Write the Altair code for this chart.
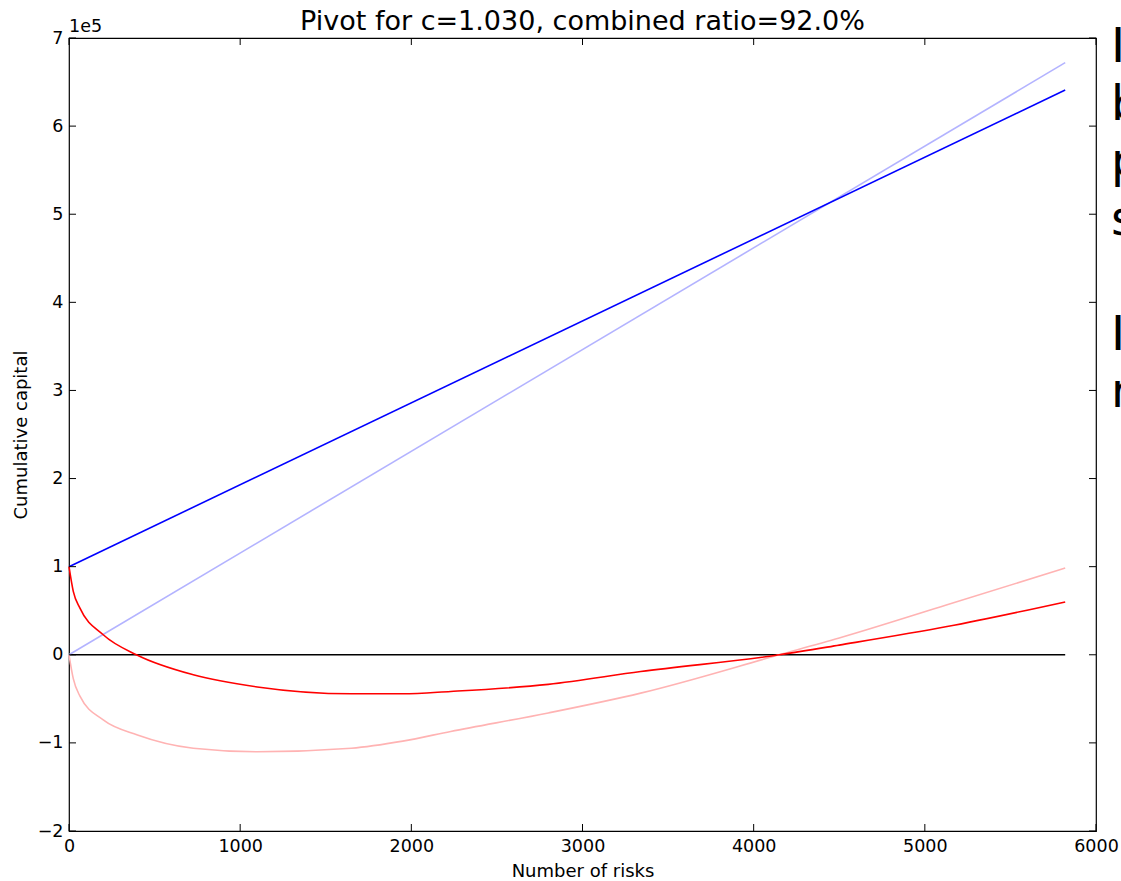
import altair as alt
import pandas as pd

# Number of risks sampled along each curve
n_curve = [0, 25, 64, 200, 400, 726, 1100, 1650, 1950, 2230, 2800, 3340, 4150, 4500, 5130, 5820]
# Cumulative capital, with and without the starting capital
red_capital = [100000, 72000, 53000, 22700, -500, -22700, -36500, -44300, -44300, -41600,
               -33600, -19000, 0, 11000, 32000, 60000]
red_light_capital = [0, -27000, -47000, -74000, -91000, -106000, -110000, -106000, -98000,
                     -87000, -66000, -43500, 0, 19000, 56700, 98400]

n_line = [0, 5820]
blue_capital = [100000, 641000]
blue_light_capital = [0, 672000]
zero_line = [0, 0]

x_ticks = [0, 1000, 2000, 3000, 4000, 5000, 6000]
y_ticks = [-200000, -100000, 0, 100000, 200000, 300000, 400000, 500000, 600000, 700000]

side_lines_top = ["I", "b", "p", "s"]
side_lines_bottom = ["I", "r"]

W, H = 1027, 793
FONT = "DejaVu Sans"

rows = []
for name, xs, ys in [
    ("zero", n_line, zero_line),
    ("blue_light", n_line, blue_light_capital),
    ("red_light", n_curve, red_light_capital),
    ("blue", n_line, blue_capital),
    ("red", n_curve, red_capital),
]:
    for i, (a, b) in enumerate(zip(xs, ys)):
        rows.append({"series": name, "n": a, "v": b, "order": i})
df = pd.DataFrame(rows)

x_scale = alt.Scale(domain=[0, 6000], nice=False, zero=False)
y_scale = alt.Scale(domain=[-200000, 700000], nice=False, zero=False)

x_axis = alt.Axis(
    title="Number of risks",
    values=x_ticks,
    format="d",
    ticks=False,
    domain=False,
    grid=False,
    labelFont=FONT,
    labelFontSize=17.5,
    labelColor="black",
    labelPadding=6,
    labelFlush=False,
    titleFont=FONT,
    titleFontSize=18,
    titleFontWeight="normal",
    titleColor="black",
    titlePadding=8,
)
y_axis = alt.Axis(
    title="Cumulative capital",
    values=y_ticks,
    labelExpr="format(datum.value / 100000, 'd')",
    ticks=False,
    domain=False,
    grid=False,
    labelFont=FONT,
    labelFontSize=17.5,
    labelColor="black",
    labelPadding=6,
    labelFlush=False,
    titleFont=FONT,
    titleFontSize=18,
    titleFontWeight="normal",
    titleColor="black",
    titlePadding=7,
)

color = alt.Color(
    "series:N",
    scale=alt.Scale(
        domain=["zero", "blue_light", "red_light", "blue", "red"],
        range=["#000000", "#b3b3ff", "#ffb3b3", "#0000ff", "#ff0000"],
    ),
    legend=None,
)

lines = alt.Chart(df).mark_line(strokeWidth=1.6, interpolate="monotone").encode(
    x=alt.X("n:Q", scale=x_scale, axis=x_axis),
    y=alt.Y("v:Q", scale=y_scale, axis=y_axis),
    color=color,
    detail="series:N",
    order="order:Q",
)

# Inward tick marks on all four sides
xt = pd.DataFrame({"n": x_ticks})
yt = pd.DataFrame({"v": y_ticks})
tick_style = dict(color="black", strokeWidth=1)
x_bottom = alt.Chart(xt).mark_rule(**tick_style).encode(
    x=alt.X("n:Q", scale=x_scale, axis=x_axis), y=alt.value(H), y2=alt.value(H - 7))
x_top = alt.Chart(xt).mark_rule(**tick_style).encode(
    x=alt.X("n:Q", scale=x_scale, axis=x_axis), y=alt.value(0), y2=alt.value(7))
y_left = alt.Chart(yt).mark_rule(**tick_style).encode(
    y=alt.Y("v:Q", scale=y_scale, axis=y_axis), x=alt.value(0), x2=alt.value(7))
y_right = alt.Chart(yt).mark_rule(**tick_style).encode(
    y=alt.Y("v:Q", scale=y_scale, axis=y_axis), x=alt.value(W), x2=alt.value(W - 7))

one = pd.DataFrame({"k": [0]})
offset_text = alt.Chart(one).mark_text(
    text="1e5", font=FONT, fontSize=17.5, align="left", baseline="alphabetic", color="black"
).encode(x=alt.value(0), y=alt.value(-6))

side_style = dict(font=FONT, fontSize=48, lineHeight=57.5, align="left",
                  baseline="alphabetic", color="black")
side_text_top = alt.Chart(one).mark_text(text=side_lines_top, **side_style).encode(
    x=alt.value(1042), y=alt.value(24))
side_text_bottom = alt.Chart(one).mark_text(text=side_lines_bottom, **side_style).encode(
    x=alt.value(1042), y=alt.value(24 + 5 * 57.5))

chart = alt.layer(
    lines, x_bottom, x_top, y_left, y_right, offset_text, side_text_top, side_text_bottom
).properties(
    width=W,
    height=H,
    title=alt.TitleParams(
        "Pivot for c=1.030, combined ratio=92.0%",
        font=FONT, fontSize=27, fontWeight="normal", color="black",
        anchor="middle", frame="group", offset=-18,
    ),
    autosize=alt.AutoSizeParams(type="none"),
    padding={"left": 69, "top": 38, "right": 25, "bottom": 50},
).configure_view(
    stroke="black", strokeWidth=1.2
)

chart.save("out.html", embed_options={"renderer": "svg", "actions": False})
